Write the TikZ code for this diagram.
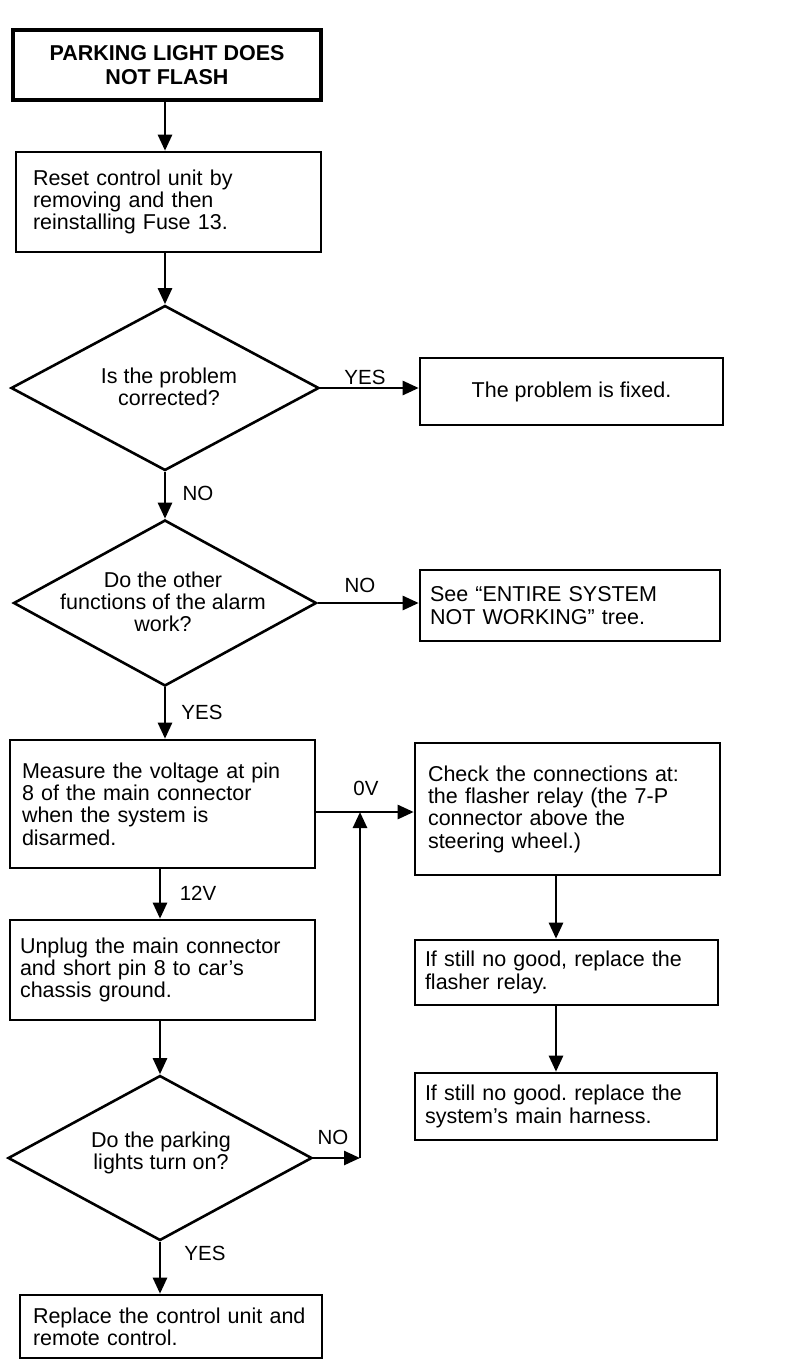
\documentclass[tikz,border=0pt]{standalone}
\usepackage{fontspec}
\setmainfont{Liberation Sans}
\usetikzlibrary{shapes.geometric,arrows.meta,calc}
\begin{document}
\frenchspacing
\begin{tikzpicture}[x=1pt,y=-1pt,
  font=\fontsize{21.5}{22.3}\selectfont,
  line width=2.6pt,
  box/.style={draw, rectangle, inner ysep=0pt, align=left},
  dia/.style={draw, diamond, inner sep=0pt},
  dtext/.style={align=center, inner sep=0pt},
  arr/.style={-{Triangle[length=16pt,width=14pt]}},
  lbl/.style={inner sep=0pt, font=\fontsize{20.5}{22}\selectfont}]
\useasboundingbox (0,0) rectangle (800,1366);

% nodes
\node[box, line width=4.2pt, align=center, font=\bfseries\fontsize{21.5}{24}\selectfont,
      minimum width=308pt, minimum height=70pt] (t) at (167,65) {PARKING LIGHT DOES\\NOT FLASH};
\node[box, inner xsep=17pt, text width=271pt, minimum width=305pt, minimum height=100pt] (b2) at (168.5,202)
  {Reset control unit by\\removing and then\\reinstalling Fuse 13.};
\node[dia, minimum width=308pt, minimum height=165pt] (d1) at (165,388) {};
\node[dtext] (d1t) at (169,387) {Is the problem\\corrected?};
\node[box, align=center, minimum width=303pt, minimum height=67pt] (b3) at (571.5,391.5) {The problem is fixed.};
\node[dia, minimum width=303pt, minimum height=166pt] (d2) at (165,603) {};
\node[dtext] (d2t) at (163,602) {Do the other\\functions of the alarm\\work?};
\node[box, inner xsep=10pt, text width=280pt, minimum width=300pt, minimum height=71pt] (b4) at (570,605.5)
  {See “ENTIRE SYSTEM\\NOT WORKING” tree.};
\node[box, inner xsep=12pt, text width=281pt, minimum width=305pt, minimum height=128pt] (b5) at (162.5,804)
  {Measure the voltage at pin\\8 of the main connector\\when the system is\\disarmed.};
\node[box, inner xsep=13pt, text width=279pt, minimum width=305pt, minimum height=132pt] (b6) at (567.5,809)
  {Check the connections at:\\the flasher relay (the 7-P\\connector above the\\steering wheel.)};
\node[box, inner xsep=10pt, text width=283pt, minimum width=303pt, minimum height=65pt] (b7) at (566.5,972.5)
  {If still no good, replace the\\flasher relay.};
\node[box, inner xsep=10pt, text width=282pt, minimum width=302pt, minimum height=67pt] (b8) at (566,1106.5)
  {If still no good. replace the\\system’s main harness.};
\node[box, inner xsep=10pt, text width=285pt, minimum width=305pt, minimum height=100pt] (b9) at (162.5,970)
  {Unplug the main connector\\and short pin 8 to car’s\\chassis ground.};
\node[dia, minimum width=304pt, minimum height=165pt] (d3) at (160,1158) {};
\node[dtext] (d3t) at (161,1153) {Do the parking\\lights turn on?};
\node[box, inner xsep=13pt, text width=276pt, minimum width=302pt, minimum height=63pt] (b10) at (171,1326.5)
  {Replace the control unit and\\remote control.};

% labels
\node[lbl] (l1) at (365,377) {YES};
\node[lbl] (l2) at (198,493) {NO};
\node[lbl] (l3) at (360,585) {NO};
\node[lbl] (l4) at (202,712) {YES};
\node[lbl] (l5) at (366,788) {0V};
\node[lbl] (l6) at (198,893) {12V};
\node[lbl] (l7) at (333,1137) {NO};
\node[lbl] (l8) at (205,1253) {YES};

% helper coordinates
\coordinate (m) at (360,812);
\coordinate (lc) at (160,0);
\coordinate (rc) at (556,0);
\coordinate (j) at (d3.east -| m);

% connectors
\draw[arr] (t.south -| d1.north) -- (b2.north -| d1.north);
\draw[arr] (b2.south -| d1.north) -- (d1.north);
\draw[arr] (d1.east) -- (d1.east -| b3.west);
\draw[arr] (d1.south) -- (d2.north);
\draw[arr] (d2.east) -- (d2.east -| b4.west);
\draw[arr] (d2.south) -- (d2.south |- b5.north);
\draw[arr] (b5.east |- m) -- (b6.west |- m);
\draw[arr] (b5.south -| lc) -- (b9.north -| lc);
\draw[arr] (b9.south -| lc) -- (d3.north);
\draw[arr] (d3.south) -- (d3.south |- b10.north);
\draw[arr] (d3.east) -- (j);
\draw[arr] (j) -- (m);
\draw[arr] (b6.south -| rc) -- (b7.north -| rc);
\draw[arr] (b7.south -| rc) -- (b8.north -| rc);
\end{tikzpicture}
\end{document}
